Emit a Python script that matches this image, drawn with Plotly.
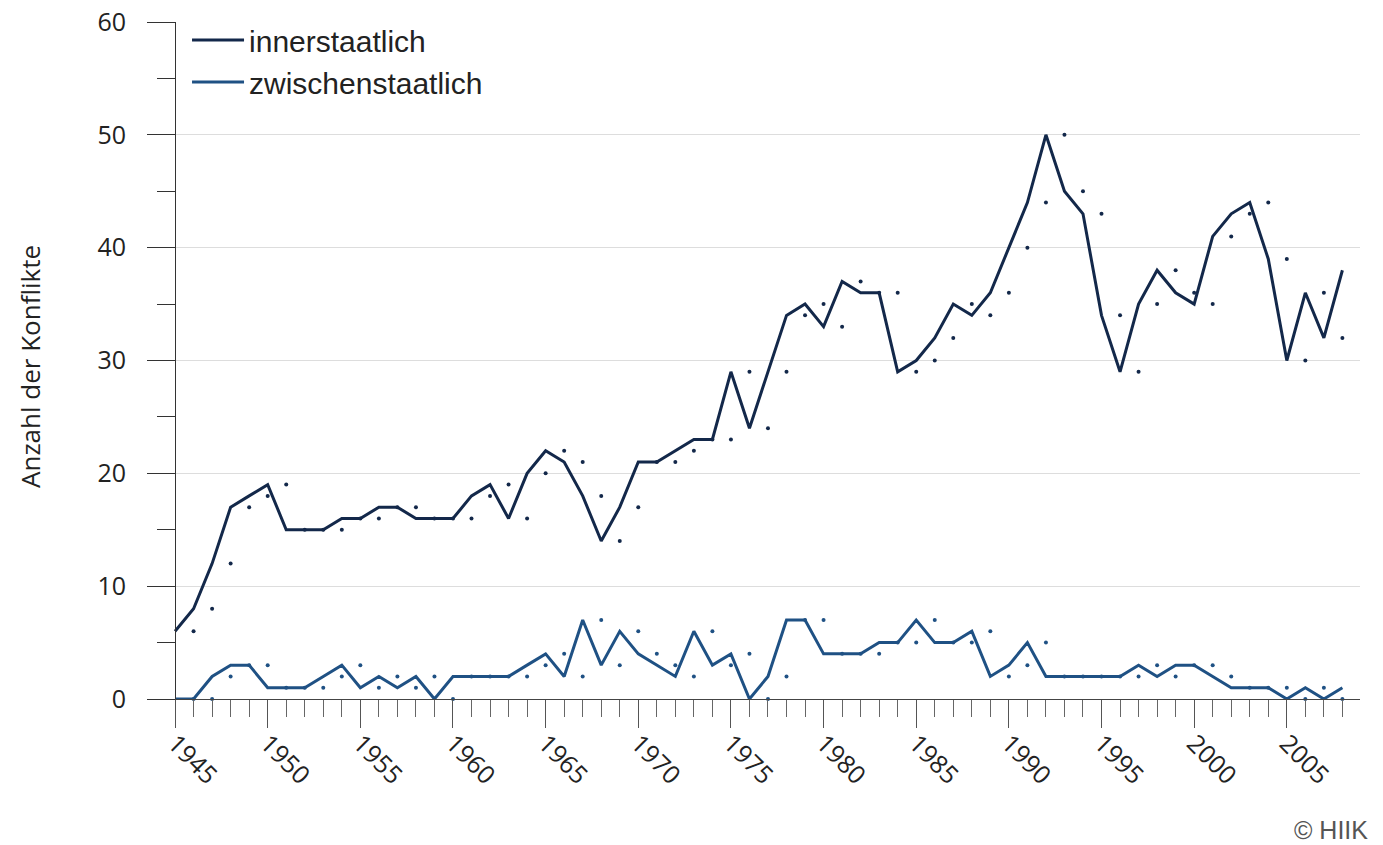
import plotly.graph_objects as go

years = list(range(1945, 2009))
innerstaatlich = [6, 8, 12, 17, 18, 19, 15, 15, 15, 16,
                  16, 17, 17, 16, 16, 16, 18, 19, 16, 20,
                  22, 21, 18, 14, 17, 21, 21, 22, 23, 23,
                  29, 24, 29, 34, 35, 33, 37, 36, 36, 29,
                  30, 32, 35, 34, 36, 40, 44, 50, 45, 43,
                  34, 29, 35, 38, 36, 35, 41, 43, 44, 39,
                  30, 36, 32, 38]
zwischenstaatlich = [0, 0, 2, 3, 3, 1, 1, 1, 2, 3,
                     1, 2, 1, 2, 0, 2, 2, 2, 2, 3,
                     4, 2, 7, 3, 6, 4, 3, 2, 6, 3,
                     4, 0, 2, 7, 7, 4, 4, 4, 5, 5,
                     7, 5, 5, 6, 2, 3, 5, 2, 2, 2,
                     2, 2, 3, 2, 3, 3, 2, 1, 1, 1,
                     0, 1, 0, 1]
series_names = ["innerstaatlich", "zwischenstaatlich"]
y_ticks = [0, 10, 20, 30, 40, 50, 60]

colors = ["#13284a", "#1f5184"]

fig = go.Figure()
for name, vals, col in zip(series_names, [innerstaatlich, zwischenstaatlich], colors):
    fig.add_trace(go.Scatter(x=years, y=vals, mode="lines", name=name,
                             line=dict(color=col, width=3)))
for name, vals, col in zip(series_names, [innerstaatlich, zwischenstaatlich], colors):
    fig.add_trace(go.Scatter(x=[y + 1 for y in years[:-1]], y=vals[:-1], mode="markers",
                             showlegend=False, marker=dict(color=col, size=4),
                             hoverinfo="skip", cliponaxis=False))

L, R, T, B = 147, 23, 22, 146
W, H = 1383, 845
pw = W - L - R
ph = H - T - B
x0 = 1945 - 28 / 18.5
x1 = 2008.95

fig.update_layout(
    width=W, height=H,
    margin=dict(l=L, r=R, t=T, b=B, autoexpand=False),
    plot_bgcolor="white", paper_bgcolor="white",
    font=dict(family="Open Sans", size=25, color="#222222"),
    showlegend=True,
    legend=dict(x=0.033, y=1.0 + 8 / ph, xanchor="left", yanchor="top",
                bgcolor="rgba(0,0,0,0)", itemwidth=52,
                font=dict(family="Liberation Sans", size=30, color="#222222")),
    xaxis=dict(range=[x0, x1], showgrid=False, zeroline=False, automargin=False,
               showline=True, linecolor="#444444", linewidth=1,
               tickmode="array", tickvals=[y for y in years if y % 5 == 0],
               ticktext=[str(y) for y in years if y % 5 == 0],
               ticks="outside", ticklen=28, tickcolor="#555555", tickwidth=1,
               tickangle=45, tickfont=dict(size=25), ticklabelstandoff=-9,
               minor=dict(tickmode="array", tickvals=years, ticks="outside",
                          ticklen=17, tickcolor="#666666", tickwidth=1, showgrid=False)),
    yaxis=dict(range=[0, 60], anchor="free", position=28 / pw, automargin=False,
               showline=True, linecolor="#333333", linewidth=1,
               showgrid=True, gridcolor="#dddddd", gridwidth=1, zeroline=False,
               tickmode="array", tickvals=y_ticks,
               ticks="outside", ticklen=28, tickcolor="#333333", tickwidth=1,
               ticklabelstandoff=16, tickfont=dict(size=25),
               minor=dict(dtick=5, ticks="outside", ticklen=18,
                          tickcolor="#333333", tickwidth=1, showgrid=False)),
    annotations=[dict(text="Anzahl der Konflikte", xref="paper", yref="paper",
                      x=-(L - 30) / pw, y=(699 - 367) / ph, textangle=-90,
                      xanchor="center", yanchor="middle", showarrow=False,
                      font=dict(family="Open Sans", size=26, color="#222222")),
                 dict(text="© HIIK", xref="paper", yref="paper",
                      x=1 + 10 / pw, y=-(830 - (H - B)) / ph,
                      xanchor="right", yanchor="middle", showarrow=False,
                      font=dict(family="Liberation Sans", size=25, color="#555555"))],
)

fig.write_html("out.html", config={"displayModeBar": False},
               post_script="document.body.style.margin='0';")
